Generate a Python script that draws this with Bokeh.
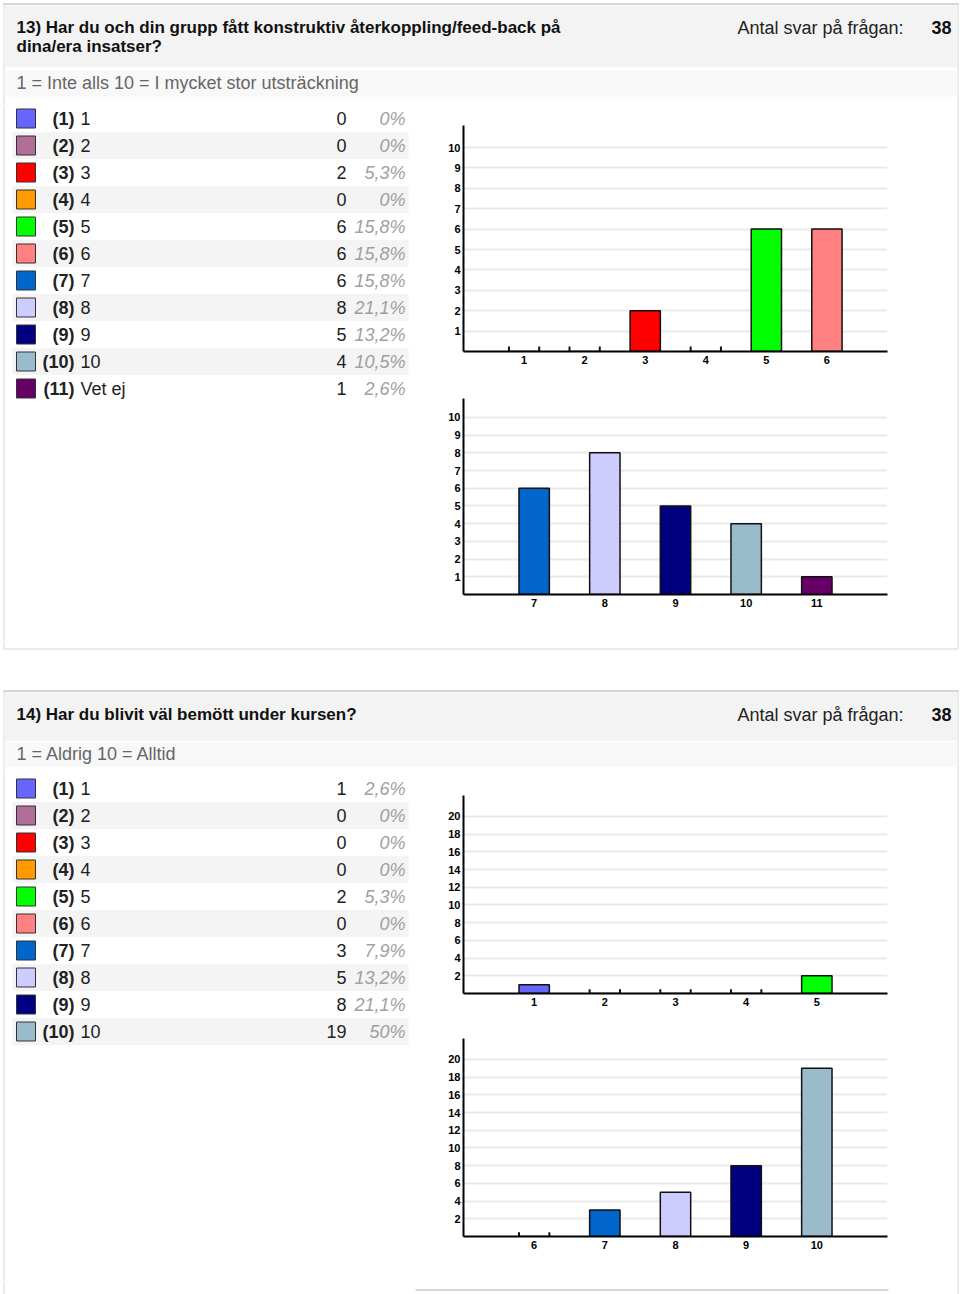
from bokeh.plotting import figure
from bokeh.layouts import column, row
from bokeh.models import Range1d, FixedTicker
from bokeh.embed import file_html
from bokeh.resources import INLINE
from bokeh.core.properties import value

FONT = "Liberation Sans"

# ---------------- data ----------------
answers_label = "Antal svar på frågan:"

q13_title = ["13) Har du och din grupp fått konstruktiv återkoppling/feed-back på",
             "dina/era insatser?"]
q13_scale = "1 = Inte alls 10 = I mycket stor utsträckning"
q13_options = [1, 2, 3, 4, 5, 6, 7, 8, 9, 10, 11]
q13_labels = ["1", "2", "3", "4", "5", "6", "7", "8", "9", "10", "Vet ej"]
q13_counts = [0, 0, 2, 0, 6, 6, 6, 8, 5, 4, 1]
q13_pcts = ["0%", "0%", "5,3%", "0%", "15,8%", "15,8%", "15,8%", "21,1%", "13,2%", "10,5%", "2,6%"]
q13_total = 38
q13_yticks = [1, 2, 3, 4, 5, 6, 7, 8, 9, 10]

q14_title = ["14) Har du blivit väl bemött under kursen?"]
q14_scale = "1 = Aldrig 10 = Alltid"
q14_options = [1, 2, 3, 4, 5, 6, 7, 8, 9, 10]
q14_labels = ["1", "2", "3", "4", "5", "6", "7", "8", "9", "10"]
q14_counts = [1, 0, 0, 0, 2, 0, 3, 5, 8, 19]
q14_pcts = ["2,6%", "0%", "0%", "0%", "5,3%", "0%", "7,9%", "13,2%", "21,1%", "50%"]
q14_total = 38
q14_yticks = [2, 4, 6, 8, 10, 12, 14, 16, 18, 20]

option_colors = ["#6666FF", "#B06E98", "#FF0000", "#FF9900", "#00FF00", "#FF8080",
                 "#0066CC", "#CCCCFF", "#000080", "#99BBCC", "#660066"]

# ---------------- helpers ----------------
BORDER = "#d6d6d6"
HEAD_BG = "#f3f3f3"
BAND_BG = "#f8f8f8"
ROW_BG = "#f4f4f4"
ROW_H = 27


def canvas(x0, x1, y0, y1):
    p = figure(width=x1 - x0, height=y1 - y0, x_range=Range1d(x0, x1), y_range=Range1d(y1, y0),
               x_axis_type=None, y_axis_type=None, output_backend="svg", toolbar_location=None,
               min_border=0, title=None)
    p.outline_line_color = None
    p.background_fill_color = "white"
    p.border_fill_color = "white"
    return p


def seg(p, x0, y0, x1, y1, color=BORDER, w=1):
    p.segment(x0=[x0], y0=[y0], x1=[x1], y1=[y1], line_color=color, line_width=w)


def band(p, x0, x1, y0, y1, color):
    p.quad(left=[x0], right=[x1], top=[y0], bottom=[y1], fill_color=color, line_color=None)


def txt(p, x, y, s, size="18px", style="normal", color="#222222", align="left"):
    p.text(x=[x], y=[y], text=[s], text_font=value(FONT), text_font_size=size,
           text_font_style=style, text_color=color, text_align=align, text_baseline="middle")


def side_borders(p, y0, y1):
    seg(p, 3.5, y0, 3.5, y1)
    seg(p, 957.5, y0, 957.5, y1)


def header(p, top, head_bottom, band_top, band_bottom, title_lines, scale_text, total):
    seg(p, 3, top + 0.5, 958, top + 0.5, color="#c8c8c8", w=1.5)
    band(p, 4, 957, top + 2, head_bottom, HEAD_BG)
    band(p, 4, 957, band_top, band_bottom, BAND_BG)
    for k, line in enumerate(title_lines):
        txt(p, 16, top + 24 + 19 * k, line, size="17px", style="bold", color="#111111")
    txt(p, 737, top + 24, answers_label, size="18px", color="#222222")
    txt(p, 951, top + 24, str(total), size="18px", style="bold", color="#111111", align="right")
    txt(p, 16, (band_top + band_bottom) / 2 - 1, scale_text, size="18px", color="#666666")


def legend_rows(p, y_first, options, labels, counts, pcts):
    n = len(options)
    ys = [y_first + ROW_H * i for i in range(n)]
    alt = [y for i, y in enumerate(ys) if i % 2 == 1]
    p.quad(left=12, right=408, top=[y - 13.5 for y in alt], bottom=[y + 13.5 for y in alt],
           fill_color=ROW_BG, line_color=None)
    p.quad(left=16, right=35, top=[y - 9.5 for y in ys], bottom=[y + 9.5 for y in ys],
           fill_color=option_colors[:n], line_color="#333333", line_width=1)
    common = dict(text_font=value(FONT), text_font_size="18px", text_baseline="middle")
    p.text(x=74, y=ys, text=[f"({o})" for o in options], text_align="right",
           text_font_style="bold", text_color="#222222", **common)
    p.text(x=80, y=ys, text=labels, text_align="left", text_color="#222222", **common)
    p.text(x=346, y=ys, text=[str(c) for c in counts], text_align="right",
           text_color="#222222", **common)
    p.text(x=405, y=ys, text=pcts, text_align="right", text_font_style="italic",
           text_color="#9f9f9f", **common)


def bar_chart(opts, counts, cols, xr, ymax, yticks, w, h, b_top, b_bottom, bw):
    p = figure(width=w, height=h, x_range=Range1d(*xr), y_range=Range1d(0, ymax),
               output_backend="svg", toolbar_location=None, title=None,
               min_border_left=23, min_border_right=3, min_border_top=b_top,
               min_border_bottom=b_bottom)
    p.outline_line_color = None
    p.background_fill_color = "white"
    p.border_fill_color = "white"
    p.xgrid.visible = False
    p.ygrid.ticker = FixedTicker(ticks=yticks)
    p.ygrid.grid_line_color = "#eaeaea"
    p.ygrid.grid_line_width = 2
    p.xaxis.ticker = FixedTicker(ticks=opts)
    p.yaxis.ticker = FixedTicker(ticks=yticks)
    for ax in (p.xaxis[0], p.yaxis[0]):
        ax.axis_line_color = "#000000"
        ax.axis_line_width = 2
        ax.major_tick_line_color = None
        ax.minor_tick_line_color = None
        ax.major_tick_out = 0
        ax.major_tick_in = 0
        ax.minor_tick_out = 0
        ax.major_label_text_font = FONT
        ax.major_label_text_font_size = "11px"
        ax.major_label_text_font_style = "bold"
        ax.major_label_text_color = "#000000"
    p.xaxis.major_label_standoff = 4
    p.yaxis.major_label_standoff = 3
    p.vbar(x=opts, top=counts, width=bw, fill_color=cols, line_color="#111111", line_width=1.5)
    zeros = [o for o, c in zip(opts, counts) if c == 0]
    if zeros:
        xs = [z - bw / 2 for z in zeros] + [z + bw / 2 for z in zeros]
        p.segment(x0=xs, y0=0, x1=xs, y1=ymax * 0.022, line_color="#111111", line_width=2)
    return p


# ---------------- section 13 ----------------
top1 = canvas(0, 960, 0, 105)
side_borders(top1, 3, 105)
header(top1, 3, 67, 70, 96, q13_title, q13_scale, q13_total)

leg1 = canvas(0, 440, 105, 640)
seg(leg1, 3.5, 105, 3.5, 640)
legend_rows(leg1, 118, q13_options, q13_labels, q13_counts, q13_pcts)

s13 = 6
chA = bar_chart(q13_options[:s13], q13_counts[:s13], option_colors[:s13], (0, 7), 11.08,
                q13_yticks, 450, 270, 20, 24, 0.5)
chB = bar_chart(q13_options[s13:], q13_counts[s13:], option_colors[s13:11], (6, 12), 11.07,
                q13_yticks, 450, 265, 23, 46, 0.43)

rt1 = canvas(890, 960, 105, 640)
seg(rt1, 957.5, 105, 957.5, 640)

# ---------------- gap + section 14 header ----------------
mid = canvas(0, 960, 640, 770)
side_borders(mid, 640, 648)
seg(mid, 3, 648.5, 958, 648.5)
side_borders(mid, 690, 770)
header(mid, 690, 740, 742, 766, q14_title, q14_scale, q14_total)

leg2 = canvas(0, 440, 770, 1280)
seg(leg2, 3.5, 770, 3.5, 1280)
legend_rows(leg2, 788, q14_options, q14_labels, q14_counts, q14_pcts)

s14 = 5
chC = bar_chart(q14_options[:s14], q14_counts[:s14], option_colors[:s14], (0, 6), 22.37,
                q14_yticks, 450, 245, 25, 22, 0.43)
chD = bar_chart(q14_options[s14:], q14_counts[s14:], option_colors[s14:10], (5, 11), 22.37,
                q14_yticks, 450, 265, 23, 44, 0.43)

rt2 = canvas(890, 960, 770, 1280)
seg(rt2, 957.5, 770, 957.5, 1280)

bot = canvas(0, 960, 1280, 1294)
side_borders(bot, 1280, 1294)
seg(bot, 415, 1289.5, 888, 1289.5, color="#c8c8c8", w=1.5)

layout = column(
    top1,
    row(leg1, column(chA, chB), rt1),
    mid,
    row(leg2, column(chC, chD), rt2),
    bot,
)

open("out.html", "w").write(file_html(layout, INLINE))
